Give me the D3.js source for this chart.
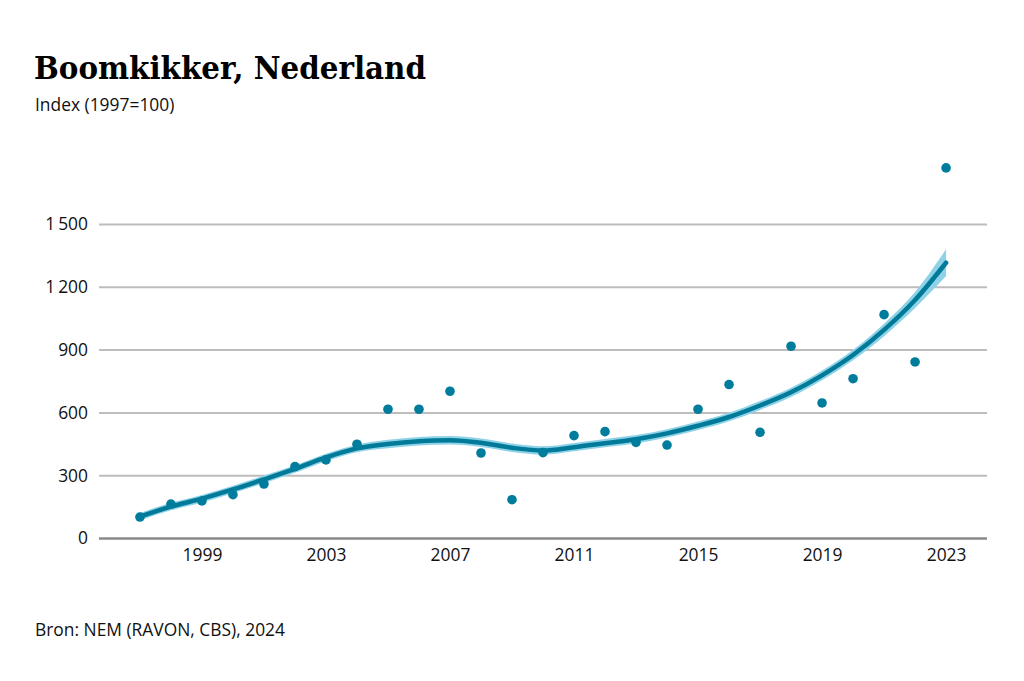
<!DOCTYPE html>
<html>
<head>
<meta charset="utf-8">
<script src="https://cdn.jsdelivr.net/npm/d3@7"></script>
<style>
  body { margin: 0; background: #fff; }
  svg { display: block; }
</style>
</head>
<body>
<svg id="chart" width="1024" height="681"></svg>
<script>
// ---------------------------------------------------------------
//    DATA
// ---------------------------------------------------------------
const years = d3.range(1997, 2024);

// yearly index values (points)
const indexValues = [100, 162, 177, 207, 258, 341, 373, 448, 615, 615, 701, 406, 183,
    408, 489, 508, 457, 444, 615, 733, 505, 916, 645, 761, 1067, 841, 1768];

// smoothed trend
const trendValues = [102, 150, 188, 232, 280, 330, 385, 428, 449, 462, 467, 455, 431,
    418, 434, 453, 472, 500, 536, 578, 633, 696, 777, 874, 994, 1137, 1315];

// half width of the confidence band around the trend
const bandHalf = [18, 18, 18, 18, 18, 18, 18, 18, 20, 20, 20, 20, 20,
    20, 20, 20, 20, 20, 20, 20, 21, 22, 23, 25, 30, 38, 64];

const yTicks = [0, 300, 600, 900, 1200, 1500];
const xTicks = [1999, 2003, 2007, 2011, 2015, 2019, 2023];

const title = "Boomkikker, Nederland";
const subtitle = "Index (1997=100)";
const source = "Bron: NEM (RAVON, CBS), 2024";

// ---------------------------------------------------------------
//    DRAWING
// ---------------------------------------------------------------
const svg = d3.select("#chart");
const sans = "'Open Sans', 'Noto Sans', sans-serif";
const textSize = 17.4;

// plot area edges
const plotLeft = 99, plotRight = 987, plotTop = 224, plotBottom = 538;

const x = d3.scaleLinear()
    .domain([1997 - 1.32, 2023 + 1.32])
    .range([plotLeft, plotRight]);

const y = d3.scaleLinear()
    .domain([0, 1500])
    .range([plotBottom, plotTop]);

// Title block
svg.append("text")
    .attr("x", 34).attr("y", 79)
    .attr("font-family", "'DejaVu Serif', serif")
    .attr("font-weight", "bold")
    .attr("font-size", 31)
    .attr("textLength", 392)
    .attr("lengthAdjust", "spacingAndGlyphs")
    .attr("fill", "#000")
    .text(title);

svg.append("text")
    .attr("x", 35).attr("y", 111)
    .attr("font-family", sans)
    .attr("font-size", textSize)
    .attr("fill", "#111")
    .text(subtitle);

// Y axis with grid lines, thousands separated by a thin space
const fmt = v => d3.format(",")(v).replace(/,/g, "\u2009");

const yAxis = svg.append("g")
    .attr("transform", `translate(${plotLeft},0)`)
    .call(d3.axisLeft(y).tickValues(yTicks).tickSize(-(plotRight - plotLeft)).tickFormat(fmt));

yAxis.select(".domain").remove();
yAxis.selectAll(".tick line")
    .attr("stroke", d => d === 0 ? "#8a8a8a" : "#bdbdbd")
    .attr("stroke-width", d => d === 0 ? 2.5 : 2);
yAxis.selectAll(".tick text")
    .attr("x", -11)
    .attr("dy", "0.34em")
    .attr("font-family", sans)
    .attr("font-size", textSize)
    .attr("fill", "#111");

const xAxis = svg.append("g")
    .attr("transform", `translate(0,${plotBottom})`)
    .call(d3.axisBottom(x).tickValues(xTicks).tickSize(0).tickFormat(d3.format("d")));

xAxis.select(".domain").remove();
xAxis.selectAll(".tick text")
    .attr("y", 11)
    .attr("dy", "0.71em")
    .attr("font-family", sans)
    .attr("font-size", textSize)
    .attr("fill", "#111");

// Confidence band
const band = d3.area()
    .x((d, i) => x(years[i]))
    .y0((d, i) => y(trendValues[i] - bandHalf[i]))
    .y1((d, i) => y(trendValues[i] + bandHalf[i]))
    .curve(d3.curveMonotoneX);

svg.append("path")
    .datum(years)
    .attr("d", band)
    .attr("fill", "#8ed2e8");

// Trend line
const line = d3.line()
    .x((d, i) => x(years[i]))
    .y(d => y(d))
    .curve(d3.curveMonotoneX);

svg.append("path")
    .datum(trendValues)
    .attr("d", line)
    .attr("fill", "none")
    .attr("stroke", "#007a98")
    .attr("stroke-width", 4.5)
    .attr("stroke-linecap", "round");

// Points
svg.append("g")
    .selectAll("circle")
    .data(indexValues)
    .join("circle")
    .attr("cx", (d, i) => x(years[i]))
    .attr("cy", d => y(d))
    .attr("r", 4.8)
    .attr("fill", "#007d9c");

// Source
svg.append("text")
    .attr("x", 35).attr("y", 636)
    .attr("font-family", sans)
    .attr("font-size", textSize)
    .attr("fill", "#111")
    .text(source);
</script>
</body>
</html>
